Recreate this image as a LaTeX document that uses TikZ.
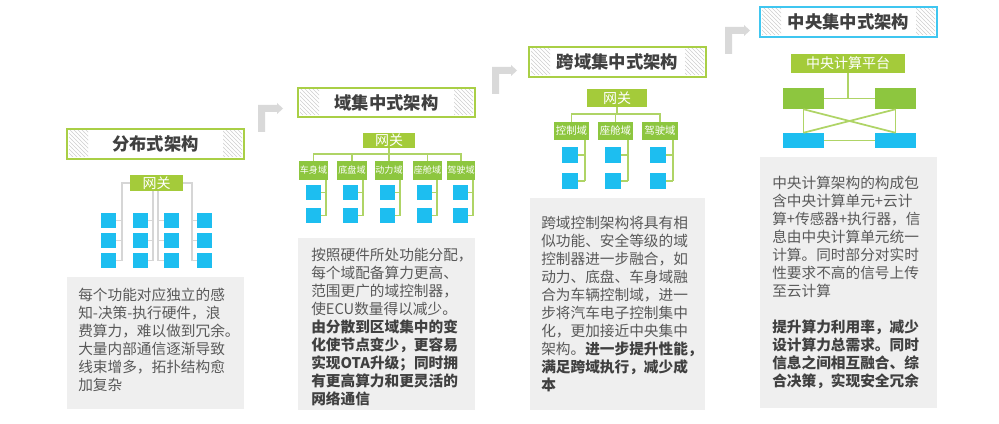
\documentclass[tikz,border=0pt]{standalone}
\usepackage{fontspec}
\setmainfont{Noto Sans CJK SC}
\usetikzlibrary{patterns}
\definecolor{tgreen}{HTML}{A9CF46}
\definecolor{tblue}{HTML}{3FC6F0}
\definecolor{gwfill}{HTML}{A4CB3A}
\definecolor{dfill}{HTML}{8DC63F}
\definecolor{lgreen}{HTML}{AFD466}
\definecolor{sqblue}{HTML}{1DBEF0}
\definecolor{boxgray}{HTML}{EFEFEF}
\definecolor{treegray}{HTML}{D6D6D6}
\definecolor{arrgray}{HTML}{D9D9D9}
\definecolor{hatchgray}{HTML}{CFCFCF}
\definecolor{txt}{HTML}{595959}
\definecolor{txtb}{HTML}{404040}
\newcommand\bx[7][]{\node[#1, minimum width={(#5-#3)*0.75pt}, minimum height={(#6-#4)*0.75pt}] (#2) at ({(#3+#5)/2},{(#4+#6)/2}) {#7};}
\newcommand\ttl[7]{%
  \fill[pattern=north west lines, pattern color=hatchgray] ({#2+2},{#3+2}) rectangle ({#2+21},{#5-2});
  \fill[pattern=north west lines, pattern color=hatchgray] ({#4-21},{#3+2}) rectangle ({#4-2},{#5-2});
  \bx[titlebox, draw=#7]{#1}{#2}{#3}{#4}{#5}{#6}}
\newcommand\B[1]{{\bfseries\color{txtb}#1}}
\begin{document}
\begin{tikzpicture}[x=0.75pt, y=-0.75pt,
  titlebox/.style={draw, line width=1.5pt, inner sep=0pt, text=txtb, font=\fontsize{13pt}{15pt}\selectfont\bfseries},
  gw/.style={fill=gwfill, inner sep=0pt, text=white, font=\fontsize{10.5pt}{12pt}\selectfont},
  dom/.style={fill=dfill, inner sep=0pt, text=white, font=\fontsize{6.8pt}{8pt}\selectfont},
  domb/.style={dom, font=\fontsize{7.8pt}{9pt}\selectfont},
  sq/.style={fill=sqblue, inner sep=0pt},
  gbk/.style={fill=dfill, inner sep=0pt},
  graybox/.style={fill=boxgray, inner sep=0pt},
  body/.style={anchor=north west, align=left, inner sep=0pt, text=txt, font=\fontsize{11pt}{13.5pt}\selectfont},
  tl/.style={draw=treegray, line width=1.1pt},
  gl/.style={draw=lgreen, line width=1.3pt},
  elbow/.pic={\fill[arrgray] (0,27) -- (0,0) -- (19,0) -- (19,-2) -- (25,3.5) -- (19,9) -- (19,7) -- (7,7) -- (7,27) -- cycle;}
]
\useasboundingbox (0,0) rectangle (999,424);
\fill[white] (0,0) rectangle (999,424);

% arrows
\pic at (258,105) {elbow};
\pic at (492,67) {elbow};
\pic at (725,27) {elbow};

% ===== column 1 =====
\ttl{t1}{67}{129}{244}{159}{分布式架构}{tgreen}
\coordinate (v1) at (122,260.5);
\coordinate (c1) at (153,260.5);
\coordinate (c2) at (158,260.5);
\coordinate (v4) at (192,260.5);
\bx[gw]{g1}{130}{175}{183}{191}{}
\draw[tl] (g1.west) -| (v1);
\draw[tl] (g1.east) -| (v4);
\draw[tl] (c1 |- g1.south) -- (c1);
\draw[tl] (c2 |- g1.south) -- (c2);
\bx[gw]{g1}{130}{175}{183}{191}{网关}
\foreach \r/\ya/\yb in {1/213/228,2/233/248,3/253/268}{
  \bx[sq]{s1\r}{101}{\ya}{116}{\yb}{}
  \bx[sq]{s2\r}{133}{\ya}{148}{\yb}{}
  \bx[sq]{s3\r}{164}{\ya}{179}{\yb}{}
  \bx[sq]{s4\r}{197}{\ya}{212}{\yb}{}
  \draw[tl] (s1\r.east) -- (s1\r.east -| v1);
  \draw[tl] (s2\r.east) -- (s2\r.east -| c1);
  \draw[tl] (s3\r.west) -- (s3\r.west -| c2);
  \draw[tl] (s4\r.west) -- (s4\r.west -| v4);
}
\bx[graybox]{b1}{67}{277}{244}{409}{}
\node[body] (x1) at (78,288) {每个功能对应独立的感\\知-决策-执行硬件，浪\\费算力，难以做到冗余。\\大量内部通信逐渐导致\\线束增多，拓扑结构愈\\加复杂};

% ===== column 2 =====
\ttl{t2}{298}{88}{475}{117}{域集中式架构}{tgreen}
\bx[gw]{g2}{363}{133}{415}{148}{网关}
\coordinate (h2) at (389,154);
\draw[gl] (g2.south) -- (h2);
\foreach \i/\xa/\xb/\qa/\qb/\lab in {1/299/328/306/321/车身域,2/337/367/343/358/底盘域,3/375/403/380/395/动力域,4/413/442/417/432/座舱域,5/447/475/453/468/驾驶域}{
  \bx[dom]{d2\i}{\xa}{161}{\xb}{180}{\lab}
  \draw[gl] (d2\i.north) |- (h2);
  \bx[sq]{q2\i a}{\qa}{185}{\qb}{200}{}
  \bx[sq]{q2\i b}{\qa}{208}{\qb}{223}{}
  \coordinate (v2\i) at ({\qb+5},215.5);
  \draw[gl] (v2\i |- d2\i.south) -- (v2\i);
  \draw[gl] (q2\i a.east) -- (q2\i a.east -| v2\i);
  \draw[gl] (q2\i b.east) -- (q2\i b.east -| v2\i);
}
\bx[graybox]{b2}{298}{238}{475}{410}{}
\node[body] (x2) at (311,248) {按照硬件所处功能分配，\\每个域配备算力更高、\\范围更广的域控制器，\\使ECU数量得以减少。\\\B{由分散到区域集中的变}\\\B{化使节点变少，更容易}\\\B{实现OTA升级；同时拥}\\\B{有更高算力和更灵活的}\\\B{网络通信}};

% ===== column 3 =====
\ttl{t3}{529}{47}{706}{77}{跨域集中式架构}{tgreen}
\bx[gw]{g3}{587}{89}{647}{107}{网关}
\coordinate (h3) at (617,114);
\draw[gl] (g3.south) -- (h3);
\foreach \i/\xa/\xb/\qa/\qb/\lab in {1/554/589/562/578/控制域,2/598/633/605/621/座舱域,3/642/678/650/666/驾驶域}{
  \bx[domb]{d3\i}{\xa}{122}{\xb}{140}{\lab}
  \draw[gl] (d3\i.north) |- (h3);
  \bx[sq]{q3\i a}{\qa}{147}{\qb}{163}{}
  \bx[sq]{q3\i b}{\qa}{173}{\qb}{189}{}
  \coordinate (v3\i) at ({\qb+7},181);
  \draw[gl] (v3\i |- d3\i.south) -- (v3\i);
  \draw[gl] (q3\i a.east) -- (q3\i a.east -| v3\i);
  \draw[gl] (q3\i b.east) -- (q3\i b.east -| v3\i);
}
\bx[graybox]{b3}{530}{198}{705}{410}{}
\node[body] (x3) at (541,216) {跨域控制架构将具有相\\似功能、安全等级的域\\控制器进一步融合，如\\动力、底盘、车身域融\\合为车辆控制域，进一\\步将汽车电子控制集中\\化，更加接近中央集中\\架构。\B{进一步提升性能，}\\\B{满足跨域执行，减少成}\\\B{本}};

% ===== column 4 =====
\ttl{t4}{760}{7}{937}{37}{中央集中式架构}{tblue}
\bx[gw]{p}{791}{54}{905}{73}{中央计算平台}
\bx[gbk]{k1}{783}{88}{824}{109}{}
\bx[gbk]{k2}{875}{88}{916}{109}{}
\bx[sq]{u1}{783}{133}{824}{148}{}
\bx[sq]{u2}{875}{133}{916}{148}{}
\draw[gl] (p.south) -- (p.south |- k1.east);
\draw[gl] (k1.east) -- (k2.west);
\draw[gl] (k1.south) -- (u1.north);
\draw[gl] (k2.south) -- (u2.north);
\draw[gl] (k1.south) -- (u2.north);
\draw[gl] (k2.south) -- (u1.north);
\draw[gl] (u1.east) -- (u2.west);
\bx[graybox]{b4}{760}{157}{937}{408}{}
\node[body] (x4) at (772,176) {中央计算架构的构成包\\含中央计算单元+云计\\算+传感器+执行器，信\\息由中央计算单元统一\\计算。同时部分对实时\\性要求不高的信号上传\\至云计算\\[13.5pt]\B{提升算力利用率，减少}\\\B{设计算力总需求。同时}\\\B{信息之间相互融合、综}\\\B{合决策，实现安全冗余}};
\end{tikzpicture}
\end{document}
